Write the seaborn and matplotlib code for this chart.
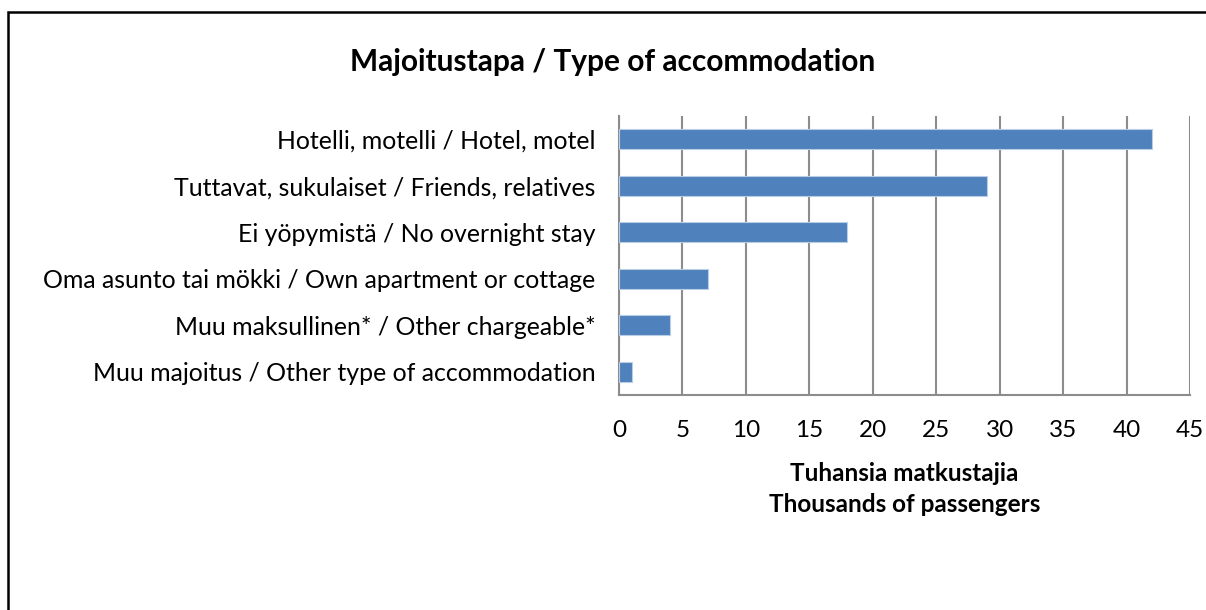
import pandas as pd
import matplotlib.pyplot as plt
import seaborn as sns
from matplotlib.patches import Rectangle

# Data
categories = [
    "Hotelli, motelli / Hotel, motel",
    "Tuttavat, sukulaiset / Friends, relatives",
    "Ei yöpymistä / No overnight stay",
    "Oma asunto tai mökki / Own apartment or cottage",
    "Muu maksullinen* / Other chargeable*",
    "Muu majoitus / Other type of accommodation",
]
passengers = [42, 29, 18, 7, 4, 1]
x_ticks = [0, 5, 10, 15, 20, 25, 30, 35, 40, 45]

df = pd.DataFrame({"category": categories, "thousands": passengers})

sns.set_style("white")
plt.rcParams["font.family"] = ["Lato", "DejaVu Sans"]
plt.rcParams["text.color"] = "black"

fig = plt.figure(figsize=(12.06, 6.1), dpi=100)
ax = fig.add_axes([619 / 1206, 1 - 395 / 610, 571 / 1206, 279 / 610])

sns.barplot(data=df, x="thousands", y="category", orient="h", color="#4F81BD",
            saturation=1, width=0.43, edgecolor="#B9CDE5", linewidth=0.8,
            ax=ax, zorder=3)

ax.set_xlim(0, 45)
ax.set_ylim(5.5, -0.5)
ax.set_xticks(x_ticks)
ax.set_xticklabels([str(t) for t in x_ticks])
ax.xaxis.grid(True, color="#8C8C8C", linewidth=1.5, zorder=0)
ax.yaxis.grid(False)
ax.set_axisbelow(True)
for side in ["top", "right"]:
    ax.spines[side].set_visible(False)
for side in ["left", "bottom"]:
    ax.spines[side].set_color("#8C8C8C")
    ax.spines[side].set_linewidth(1.5)
ax.tick_params(axis="both", length=0, labelsize=17.5, colors="black")
ax.tick_params(axis="y", labelsize=17.9, pad=17)
ax.tick_params(axis="x", pad=18)
ax.set_ylabel("")
ax.set_xlabel("Tuhansia matkustajia\nThousands of passengers", fontsize=17.5,
              fontweight="bold", labelpad=15, linespacing=1.45, color="black")

fig.text(0.508, 1 - 62 / 610, "Majoitustapa / Type of accommodation",
         ha="center", va="center", fontsize=21.5, fontweight="bold",
         color="black")

# chart frame
fig.patches.append(Rectangle((8 / 1206, -0.5), 1.5, 0.5 + 1 - 12 / 610,
                             transform=fig.transFigure, fill=False,
                             edgecolor="black", linewidth=1.8))

fig.savefig("out.png", dpi=100)
